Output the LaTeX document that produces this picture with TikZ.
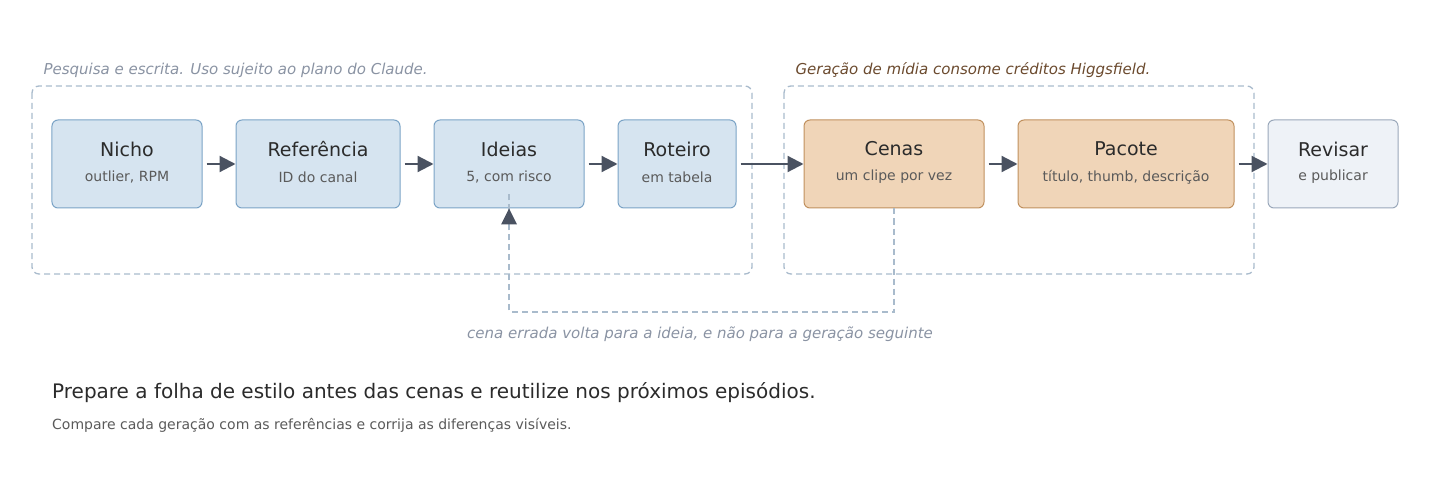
\documentclass[tikz,border=0pt]{standalone}
\usepackage{fontspec}
\setmainfont{DejaVu Sans}
\usetikzlibrary{arrows.meta}
\definecolor{bf}{HTML}{D6E4F0}\definecolor{bd}{HTML}{7BA3C6}
\definecolor{of}{HTML}{F0D5B8}\definecolor{od}{HTML}{C0905E}
\definecolor{gf}{HTML}{EEF2F7}\definecolor{gd}{HTML}{9AA8BA}
\definecolor{dash}{HTML}{A9BBCC}\definecolor{ar}{HTML}{4A5261}
\definecolor{lab}{HTML}{8A93A3}\definecolor{brn}{HTML}{6B4A2E}
\definecolor{tx}{HTML}{2B2B2B}\definecolor{sub}{HTML}{5A5A5A}
\begin{document}
\begin{tikzpicture}[x=1bp,y=-1bp,
 box/.style={draw,rounded corners=6bp,line width=1bp,align=center,inner sep=0},
 blue/.style={box,fill=bf,draw=bd},
 orng/.style={box,fill=of,draw=od},
 gray/.style={box,fill=gf,draw=gd},
 grp/.style={draw=dash,dashed,dash pattern=on 6bp off 4bp,rounded corners=7bp,line width=1.3bp},
 arr/.style={draw=ar,line width=2.2bp,-{Triangle[length=16bp,width=16bp]}},
 lbl/.style={font=\fontsize{15bp}{18bp}\selectfont\itshape,text=lab}]
\useasboundingbox (0,0) rectangle (1440,480);
\newcommand{\bx}[7]{\node[#1,minimum width=#4bp,minimum height=88bp] (#2) at (#3,164) {};
 \node[font=\fontsize{19bp}{22bp}\selectfont,text=tx] (#2t) at (#3,149) {#5};
 \node[font=\fontsize{14bp}{16bp}\selectfont,text=sub] (#2s) at (#3,177) {#6};}
\draw[grp] (32,86) rectangle (752,274);
\draw[grp] (784,86) rectangle (1254,274);
\node[lbl,anchor=west] (l1) at (40,70) {Pesquisa e escrita. Uso sujeito ao plano do Claude.};
\node[lbl,anchor=west,text=brn] (l2) at (792,70) {Geração de mídia consome créditos Higgsfield.};
\bx{blue}{a}{127}{150}{Nicho}{outlier, RPM}{}
\bx{blue}{b}{318}{164}{Referência}{ID do canal}{}
\bx{blue}{c}{509}{150}{Ideias}{5, com risco}{}
\bx{blue}{d}{677}{118}{Roteiro}{em tabela}{}
\bx{orng}{e}{894}{180}{Cenas}{um clipe por vez}{}
\bx{orng}{f}{1126}{216}{Pacote}{título, thumb, descrição}{}
\bx{gray}{g}{1333}{130}{Revisar}{e publicar}{}
\foreach \p/\q in {a/b,b/c,c/d,d/e,e/f,f/g}
 \draw[arr] ([xshift=4bp]\p.east) -- (\q.west);
\coordinate (k1) at (894,312);\coordinate (k2) at (509,312);
\draw[draw=dash,dashed,dash pattern=on 6bp off 4bp,line width=1.3bp] (e.south) -- (k1) -- (k2) -- ([yshift=14bp]c.south);
\draw[draw=none,fill=ar] (c.south) -- ++(-8,16) -- ++(16,0) -- cycle;
\node[lbl] (l3) at (700,334) {cena errada volta para a ideia, e não para a geração seguinte};
\node[anchor=west,font=\fontsize{20bp}{24bp}\selectfont,text=tx,inner sep=0] (t1) at (52,393) {Prepare a folha de estilo antes das cenas e reutilize nos próximos episódios.};
\node[anchor=west,font=\fontsize{14bp}{16bp}\selectfont,text=sub,inner sep=0] (t2) at (52,425) {Compare cada geração com as referências e corrija as diferenças visíveis.};
\end{tikzpicture}
\end{document}
